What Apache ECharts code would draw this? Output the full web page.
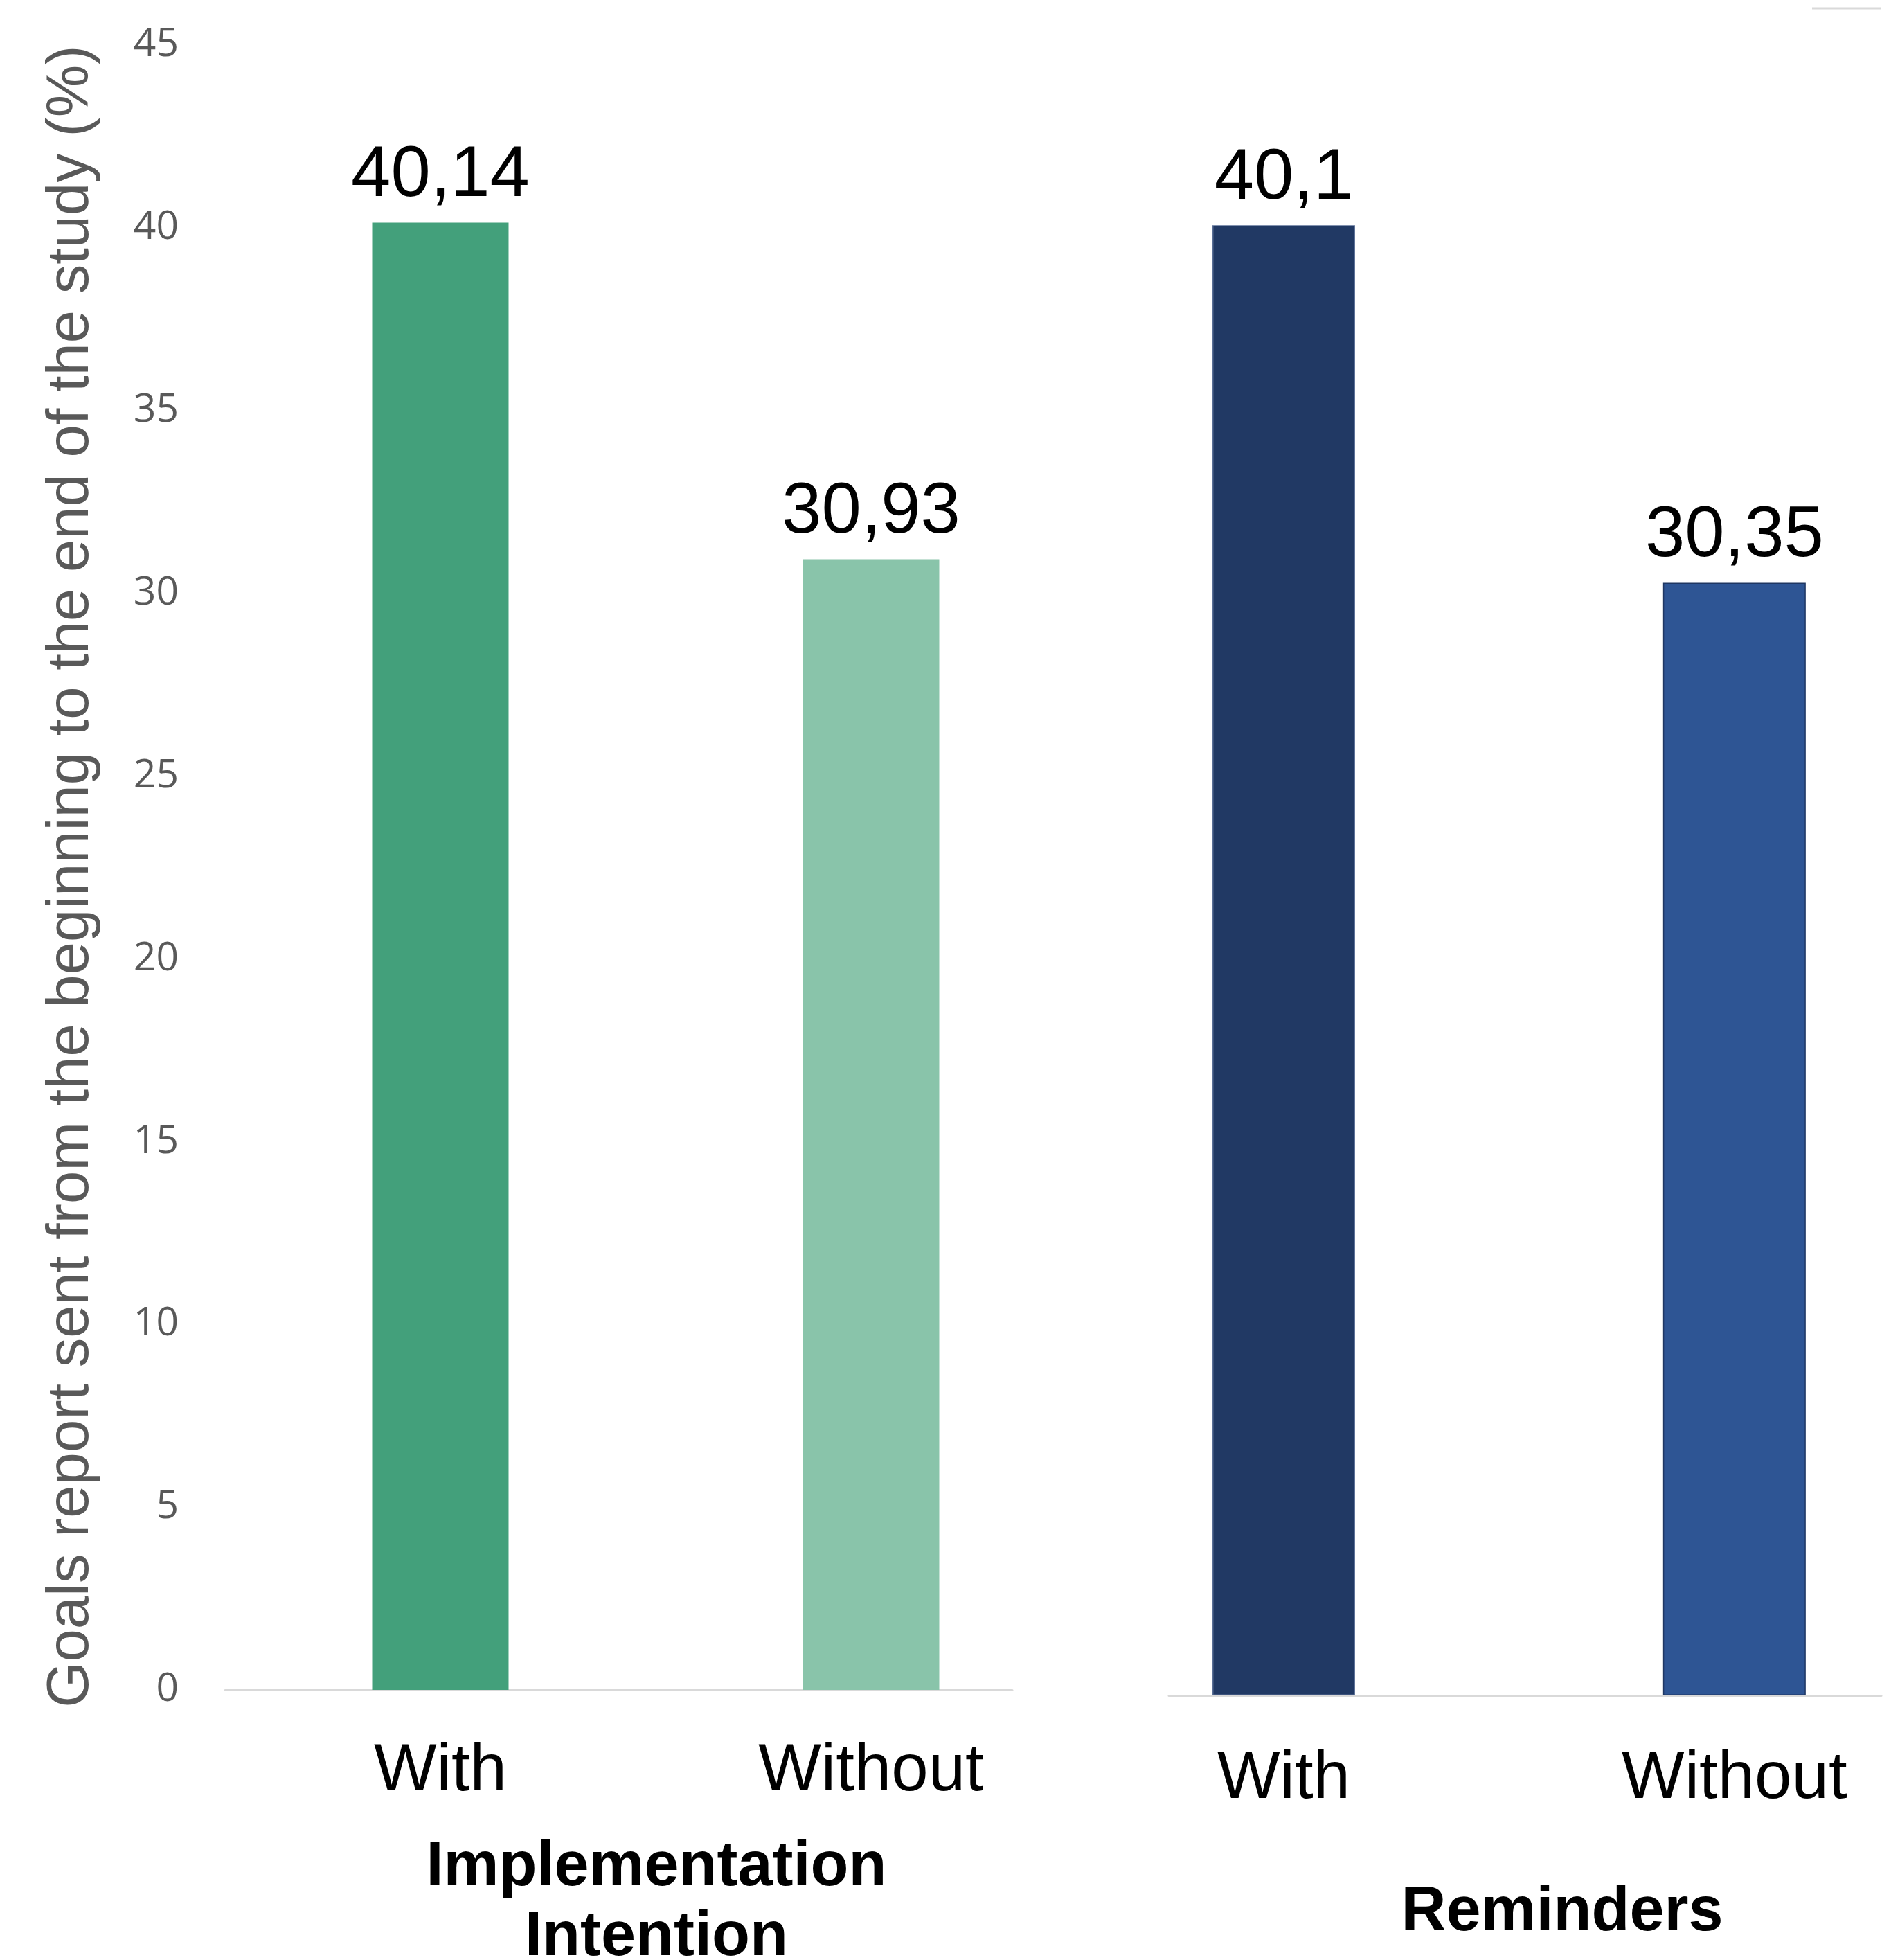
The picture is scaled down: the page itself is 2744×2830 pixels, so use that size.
<!DOCTYPE html>
<html>
<head>
<meta charset="utf-8">
<script src="https://cdn.jsdelivr.net/npm/echarts@6/dist/echarts.min.js"></script>
<style>
  html, body { margin: 0; padding: 0; background: #fff; }
  #chart { width: 2744px; height: 2830px; }
</style>
</head>
<body>
<div id="chart"></div>
<script>
// Goal reports sent over the study, by condition
const groupNames = ['Implementation\nIntention', 'Reminders'];
const conditions = ['With', 'Without'];
const conditionPositions = [1, 2];
const implementationValues = [40.14, 30.93];
const reminderValues = [40.1, 30.35];
const yMin = 0;
const yMax = 45;
const yStep = 5;
const yTitle = 'Goals report sent from the beginning to the end of the study (%)';

const implementationColors = ['#43a07b', '#89c4aa'];
const reminderColors = ['#213964', '#2e5594'];
const reminderBorders = ['#5a6f96', '#1f3763'];

const sans = '"Liberation Sans", Arial, sans-serif';
const commaDecimal = v => String(v).replace('.', ',');

function barData(values, colors, borders) {
  return values.map((v, i) => ({
    value: [conditionPositions[i], v],
    itemStyle: borders
      ? { color: colors[i], borderColor: borders[i], borderWidth: 1.5 }
      : { color: colors[i] }
  }));
}

const valueLabel = {
  show: true,
  position: 'top',
  distance: 15,
  fontFamily: sans,
  fontSize: 103,
  lineHeight: 103,
  color: '#000',
  formatter: p => commaDecimal(p.value[1])
};

function conditionAxis(gridIndex, min, max, margin) {
  return {
    gridIndex,
    type: 'value',
    min,
    max,
    axisLine: { show: true, lineStyle: { color: '#d9d9d9', width: 3 } },
    axisTick: { show: false },
    splitLine: { show: false },
    axisLabel: {
      customValues: conditionPositions,
      formatter: v => conditions[Math.round(v) - 1],
      fontFamily: sans,
      fontSize: 96,
      lineHeight: 96,
      color: '#000',
      margin
    }
  };
}

const chart = echarts.init(document.getElementById('chart'), null, { renderer: 'canvas' });
chart.setOption({
  animation: false,
  backgroundColor: '#ffffff',
  title: [
    {
      text: groupNames[0],
      left: 948,
      top: 2647,
      textAlign: 'center',
      padding: 0,
      textStyle: { fontFamily: sans, fontWeight: 'bold', fontSize: 90, lineHeight: 101, color: '#000' }
    },
    {
      text: groupNames[1],
      left: 2256,
      top: 2712,
      textAlign: 'center',
      padding: 0,
      textStyle: { fontFamily: sans, fontWeight: 'bold', fontSize: 90, lineHeight: 101, color: '#000' }
    }
  ],
  grid: [
    { left: 325, right: 1282, top: 65, bottom: 390 },
    { left: 1688, right: 27, top: 66, bottom: 382 }
  ],
  xAxis: [
    conditionAxis(0, 0.5, 2.328, 71),
    conditionAxis(1, 0.745, 2.326, 74)
  ],
  yAxis: [
    {
      gridIndex: 0,
      type: 'value',
      min: yMin,
      max: yMax,
      interval: yStep,
      axisLine: { show: false },
      axisTick: { show: false },
      splitLine: { show: false },
      axisLabel: {
        fontFamily: '"Open Sans", sans-serif',
        fontSize: 57,
        color: '#595959',
        margin: 67,
        padding: [8, 0, 0, 0]
      },
      name: yTitle,
      nameLocation: 'middle',
      nameRotate: 90,
      nameGap: 179,
      nameTextStyle: { fontFamily: sans, fontSize: 85, color: '#595959', padding: [0, 26, 0, 0] }
    },
    {
      gridIndex: 1,
      type: 'value',
      min: yMin,
      max: yMax,
      show: false,
      splitLine: { show: false }
    }
  ],
  graphic: [
    {
      type: 'line',
      shape: { x1: 2617, y1: 12, x2: 2717, y2: 12 },
      style: { stroke: '#d9d9d9', lineWidth: 3 }
    }
  ],
  series: [
    {
      name: groupNames[0],
      type: 'bar',
      xAxisIndex: 0,
      yAxisIndex: 0,
      barWidth: 197,
      data: barData(implementationValues, implementationColors),
      label: valueLabel
    },
    {
      name: groupNames[1],
      type: 'bar',
      xAxisIndex: 1,
      yAxisIndex: 1,
      barWidth: 206,
      data: barData(reminderValues, reminderColors, reminderBorders),
      label: valueLabel
    }
  ]
});
</script>
</body>
</html>
